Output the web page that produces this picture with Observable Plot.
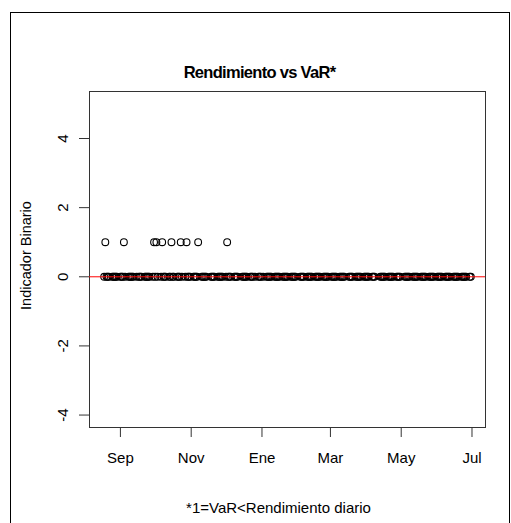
<!DOCTYPE html>
<html>
<head>
<meta charset="utf-8">
<script src="https://cdn.jsdelivr.net/npm/d3@7"></script>
<script src="https://cdn.jsdelivr.net/npm/@observablehq/plot@0.6"></script>
<style>
  html, body { margin: 0; padding: 0; background: #fff; overflow: hidden; }
  #wrap { position: relative; width: 511px; height: 523px; }
  #border { position: absolute; left: 10px; top: 12px; width: 500px; height: 600px;
            border: 1px solid #000; box-sizing: border-box; pointer-events: none; }
  svg { font-family: "Liberation Sans", Arial, sans-serif; }
</style>
</head>
<body>
<div id="wrap"><div id="border"></div></div>
<script>
// Trading window of the series (daily returns, weekdays only)
const firstDay = "2008-08-18";
const lastDay = "2009-06-30";
// Market holidays with no observation
const holidays = ["2008-09-16", "2008-11-17", "2008-12-12", "2008-12-25", "2009-01-01",
                  "2009-02-02", "2009-03-16", "2009-04-09", "2009-04-10", "2009-05-01"];
// Days on which the daily return exceeded the VaR (indicator = 1)
const breachDays = ["2008-08-19", "2008-09-04", "2008-09-30", "2008-10-02", "2008-10-07",
                    "2008-10-15", "2008-10-23", "2008-10-28", "2008-11-07", "2008-12-02"];
// Axis ticks
const monthTicks = ["2008-09-01", "2008-11-01", "2009-01-01", "2009-03-01", "2009-05-01", "2009-07-01"];
const monthLabels = ["Sep", "Nov", "Ene", "Mar", "May", "Jul"];
const yTicks = [-4, -2, 0, 2, 4];
const yLimits = [-4, 5];

const parse = d3.utcParse("%Y-%m-%d");
const fmt = d3.utcFormat("%Y-%m-%d");
const holidaySet = new Set(holidays);
const breachSet = new Set(breachDays);

const t0 = parse(firstDay), t1 = parse(lastDay);
const data = d3.utcDays(t0, d3.utcDay.offset(t1, 1))
  .filter(d => d.getUTCDay() !== 0 && d.getUTCDay() !== 6 && !holidaySet.has(fmt(d)))
  .map(d => ({date: d, ind: breachSet.has(fmt(d)) ? 1 : 0}));

// R-style 4% padding around the data range
const span = t1 - t0;
const xDomain = [new Date(+t0 - 0.04 * span), new Date(+t1 + 0.04 * span)];
const ySpan = yLimits[1] - yLimits[0];
const yDomain = [yLimits[0] - 0.04 * ySpan, yLimits[1] + 0.04 * ySpan];

const tickDates = monthTicks.map(parse);
const labelOf = new Map(tickDates.map((d, i) => [+d, monthLabels[i]]));

const chart = Plot.plot({
  width: 511,
  height: 523,
  marginLeft: 89,
  marginRight: 26,
  marginTop: 91,
  marginBottom: 96,
  style: {fontFamily: "'Liberation Sans', Arial, sans-serif", background: "transparent", overflow: "visible"},
  x: {type: "utc", domain: xDomain},
  y: {domain: yDomain},
  marks: [
    Plot.frame({stroke: "#333"}),
    Plot.axisX({ticks: tickDates, tickSize: 10, tickPadding: 15, tickFormat: d => labelOf.get(+d),
                fontSize: 15, label: null, stroke: "#333", fill: "#000"}),
    Plot.axisY({ticks: yTicks, tickSize: 10, tickFormat: () => "", label: null, stroke: "#333"}),
    Plot.text(yTicks, {y: d => d, text: d => String(d), frameAnchor: "left", textAnchor: "middle",
                       dx: -26, rotate: -90, fontSize: 15, fill: "#000"}),
    Plot.dot(data, {x: "date", y: "ind", r: 3.4, stroke: "#000", strokeWidth: 1.1, fill: "none"}),
    Plot.ruleY([0], {stroke: "red", strokeWidth: 1}),
    Plot.text(["Rendimiento vs VaR*"], {frameAnchor: "top", dx: -28, dy: -25, fontSize: 16.5,
                                        fontWeight: "bold", fill: "#000", className: "main-title"}),
    Plot.text(["Indicador Binario"], {frameAnchor: "left", textAnchor: "middle", dx: -63, dy: -4,
                                      rotate: -90, fontSize: 14.5, fill: "#000"}),
    Plot.text(["*1=VaR<Rendimiento diario"], {frameAnchor: "bottom", dx: -9, dy: 85, fontSize: 15, fill: "#000"})
  ]
});
// tighter tracking for the bold title
chart.querySelectorAll(".main-title text").forEach(t => t.style.letterSpacing = "-0.7px");
chart.style.position = "absolute";
chart.style.left = "0px";
chart.style.top = "0px";
document.getElementById("wrap").appendChild(chart);
</script>
</body>
</html>
